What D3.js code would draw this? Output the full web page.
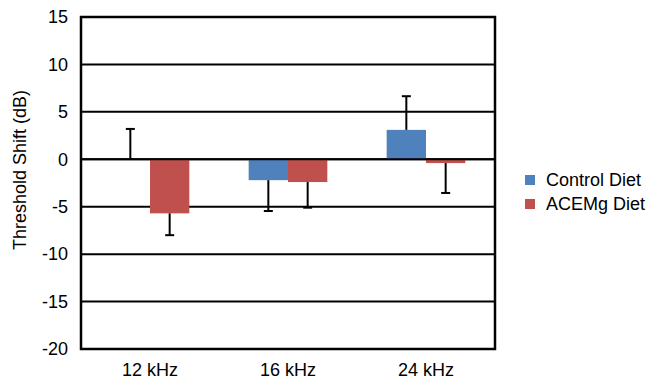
<!DOCTYPE html>
<html>
<head>
<meta charset="utf-8">
<script src="https://cdn.jsdelivr.net/npm/d3@7"></script>
<style>
  body { margin: 0; background: #fff; }
  text { font-family: "Liberation Sans", Arial, sans-serif; fill: #000; }
</style>
</head>
<body>
<script>
var categories = ["12 kHz", "16 kHz", "24 kHz"];
var seriesNames = ["Control Diet", "ACEMg Diet"];
var control = [0, -2.2, 3.1];
var controlErr = [3.2, 3.25, 3.55];
var acemg = [-5.7, -2.4, -0.4];
var acemgErr = [2.3, 2.7, 3.15];
var yTicks = [15, 10, 5, 0, -5, -10, -15, -20];
var colors = ["#4F81BD", "#C0504D"];

var width = 648, height = 380;
var margin = {top: 17, right: 153, bottom: 31, left: 81};

var svg = d3.select("body").append("svg")
    .attr("width", width)
    .attr("height", height);

var x = d3.scaleBand()
    .domain(categories)
    .range([margin.left, width - margin.right])
    .paddingInner(0.43)
    .paddingOuter(0.215);

var x1 = d3.scaleBand()
    .domain([0, 1])
    .range([0, x.bandwidth()]);

var y = d3.scaleLinear()
    .domain([-20, 15])
    .range([height - margin.bottom, margin.top]);

// gridlines
svg.append("g")
    .selectAll("line")
    .data(yTicks)
    .enter().append("line")
    .attr("x1", margin.left)
    .attr("x2", width - margin.right)
    .attr("y1", function (d) { return y(d); })
    .attr("y2", function (d) { return y(d); })
    .attr("stroke", "#000")
    .attr("stroke-width", 2);

// tick labels
svg.append("g")
    .selectAll("text")
    .data(yTicks)
    .enter().append("text")
    .attr("x", 68)
    .attr("y", function (d) { return y(d); })
    .attr("dy", "0.35em")
    .attr("text-anchor", "end")
    .style("font-size", "18px")
    .text(function (d) { return d; });

var rows = [];
categories.forEach(function (c, i) {
    rows.push({cat: c, s: 0, v: control[i], e: controlErr[i]});
    rows.push({cat: c, s: 1, v: acemg[i], e: acemgErr[i]});
});

// bars
svg.append("g")
    .selectAll("rect")
    .data(rows)
    .enter().append("rect")
    .attr("x", function (d) { return x(d.cat) + x1(d.s); })
    .attr("width", x1.bandwidth())
    .attr("y", function (d) { return Math.min(y(d.v), y(0)); })
    .attr("height", function (d) { return Math.abs(y(d.v) - y(0)); })
    .attr("fill", function (d) { return colors[d.s]; });

// zero line and frame
svg.append("line")
    .attr("x1", margin.left).attr("x2", width - margin.right)
    .attr("y1", y(0)).attr("y2", y(0))
    .attr("stroke", "#000").attr("stroke-width", 2);

svg.append("rect")
    .attr("x", margin.left)
    .attr("y", margin.top)
    .attr("width", width - margin.left - margin.right)
    .attr("height", height - margin.top - margin.bottom)
    .attr("fill", "none")
    .attr("stroke", "#000")
    .attr("stroke-width", 2.5);

// error bars (one sided, away from zero)
var eb = svg.append("g").attr("stroke", "#000").attr("stroke-width", 2);
rows.forEach(function (d) {
    var cx = x(d.cat) + x1(d.s) + x1.bandwidth() / 2;
    var end = d.v >= 0 ? d.v + d.e : d.v - d.e;
    eb.append("line")
        .attr("x1", cx).attr("x2", cx)
        .attr("y1", y(d.v)).attr("y2", y(end));
    eb.append("line")
        .attr("x1", cx - 4.5).attr("x2", cx + 4.5)
        .attr("y1", y(end)).attr("y2", y(end));
});

// x labels
svg.append("g")
    .selectAll("text")
    .data(categories)
    .enter().append("text")
    .attr("x", function (d) { return x(d) + x.bandwidth() / 2; })
    .attr("y", 376)
    .attr("text-anchor", "middle")
    .style("font-size", "18px")
    .text(function (d) { return d; });

// y title
svg.append("text")
    .attr("transform", "translate(26,170) rotate(-90)")
    .attr("text-anchor", "middle")
    .style("font-size", "18px")
    .text("Threshold Shift (dB)");

// legend
var leg = svg.append("g")
    .selectAll("g")
    .data(seriesNames)
    .enter().append("g")
    .attr("transform", function (d, i) { return "translate(525," + (180 + i * 24) + ")"; });

leg.append("rect")
    .attr("x", 0).attr("y", -5)
    .attr("width", 10).attr("height", 10)
    .attr("fill", function (d, i) { return colors[i]; });

leg.append("text")
    .attr("x", 21)
    .attr("dy", "0.35em")
    .style("font-size", "18px")
    .text(function (d) { return d; });
</script>
</body>
</html>
